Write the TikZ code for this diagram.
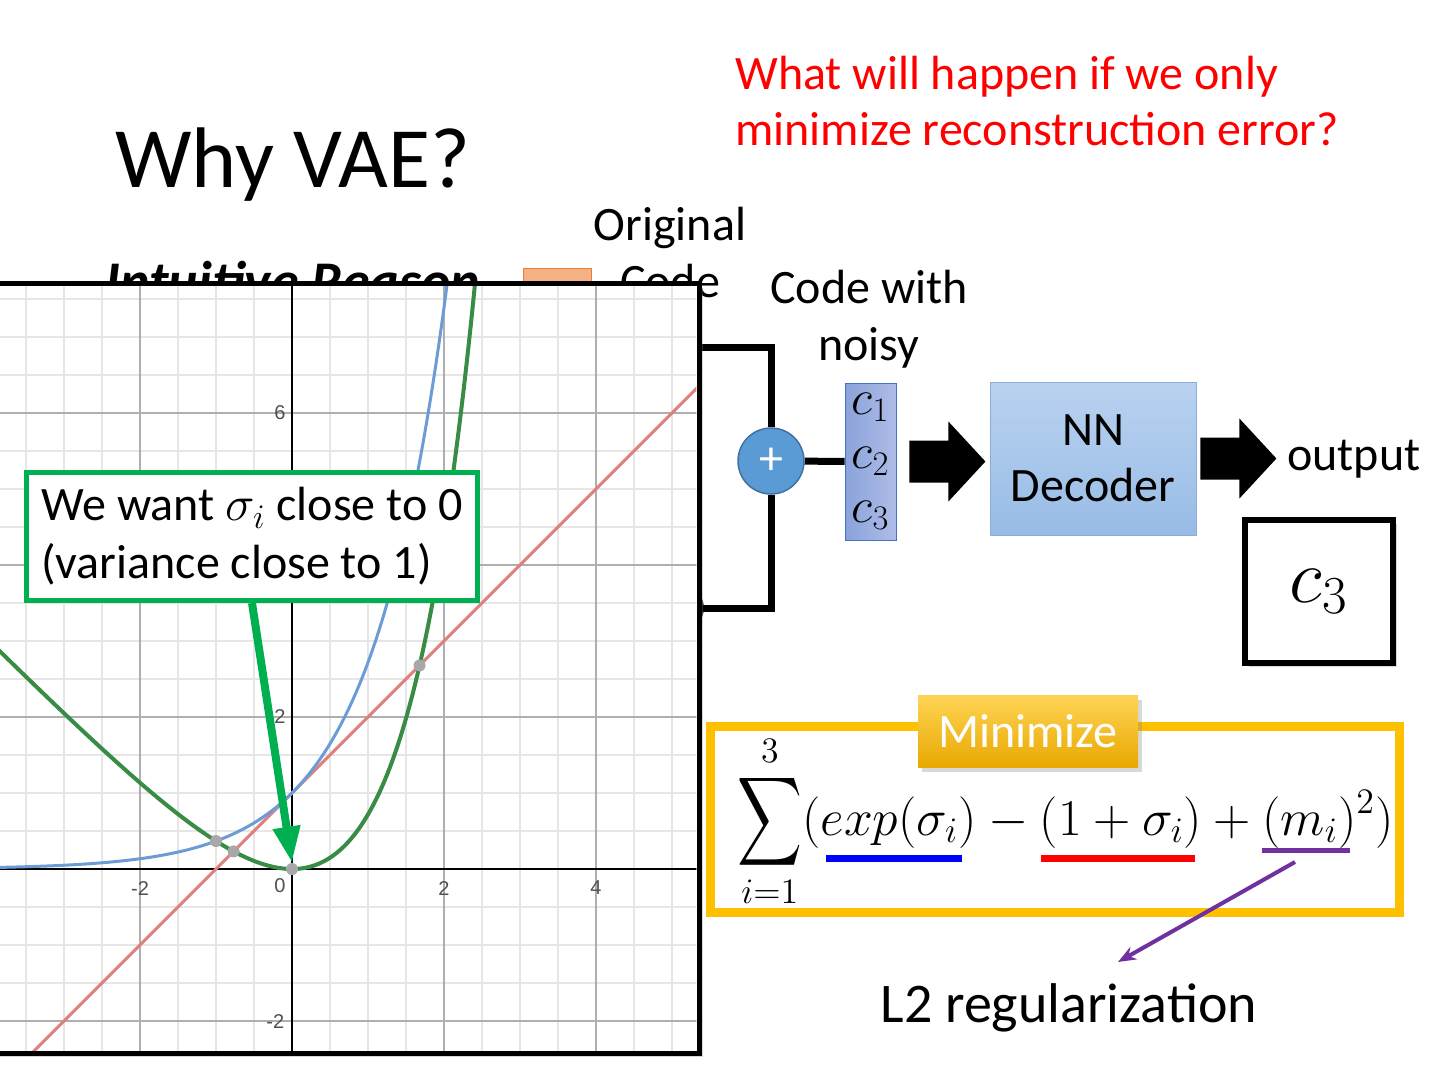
\documentclass[tikz,border=0pt]{standalone}
\usepackage{amsmath}
\usepackage{fontspec}
\setmainfont{Carlito}
\newfontfamily\tickfont{Liberation Sans}
\usetikzlibrary{arrows.meta,shadows,calc}
\definecolor{qred}{RGB}{255,0,0}
\definecolor{plusblue}{RGB}{91,155,213}
\definecolor{plusedge}{RGB}{65,113,156}
\definecolor{hiddenblue}{RGB}{31,56,100}
\definecolor{vecL}{RGB}{138,163,217}
\definecolor{vecR}{RGB}{175,188,232}
\definecolor{vecedge}{RGB}{68,114,196}
\definecolor{decT}{RGB}{185,210,240}
\definecolor{decB}{RGB}{152,188,230}
\definecolor{decedge}{RGB}{143,170,220}
\definecolor{gold}{RGB}{255,192,0}
\definecolor{goldT}{RGB}{255,212,85}
\definecolor{goldB}{RGB}{232,168,0}
\definecolor{callgreen}{RGB}{0,176,80}
\definecolor{ulblue}{RGB}{0,0,255}
\definecolor{ulred}{RGB}{255,0,0}
\definecolor{ulpurple}{RGB}{112,48,160}
\definecolor{gridminor}{RGB}{230,230,230}
\definecolor{gridmajor}{RGB}{175,175,175}
\definecolor{cblue}{RGB}{108,156,214}
\definecolor{cred}{RGB}{222,128,126}
\definecolor{cgreen}{RGB}{56,140,70}
\definecolor{dotgray}{RGB}{168,168,168}
\definecolor{legorange}{RGB}{244,177,131}
\definecolor{legedge}{RGB}{237,125,49}
\definecolor{tickgray}{RGB}{80,80,80}
\newcommand\myfs[2]{\fontsize{#1bp}{#2bp}\selectfont}
\begin{document}
\begin{tikzpicture}[x=0.5bp,y=-0.5bp,
  body/.style={inner sep=0pt, font=\myfs{24}{28.5}},
  thickline/.style={line width=3.5bp, black},
  tick/.style={inner sep=0pt, text=tickgray, font=\tickfont\myfs{10}{11}},
  gdot/.style={circle, fill=dotgray, inner sep=0pt, minimum size=6bp},
  blockarrow/.style={fill=black},
  shadowed/.style={drop shadow={opacity=0.3, shadow xshift=2bp, shadow yshift=-2bp}}]
\useasboundingbox (0,0) rectangle (1440,1080);
\fill[white] (0,0) rectangle (1440,1080);

% ---- texts at the top
\node[anchor=base west, inner sep=0pt, font=\myfs{43}{50}] (title) at (115,187) {Why VAE?};
\node[anchor=base west, align=left, body, text=qred, font=\myfs{24}{28}] (question) at (735,145) {What will happen if we only\\minimize reconstruction error?};

% ---- items hidden behind the graph panel
\node[anchor=base, align=center, body] (orig) at (670,297) {Original\\Code};
\node[anchor=base west, inner sep=0pt, font=\myfs{28}{34}\bfseries\itshape] (intuitive) at (105,300) {Intuitive Reason};
\node[draw=legedge, fill=legorange, minimum width=34bp, minimum height=20bp, anchor=north west, inner sep=0pt] (legend) at (523,268) {};
\node[circle, fill=hiddenblue, minimum size=22bp, inner sep=0pt] (hidden) at (682,608) {};

% ---- plus and brackets
\node[circle, fill=plusblue, draw=plusedge, line width=0.75bp, minimum size=33bp, inner sep=0pt, text=white, font=\myfs{24}{28}] (plus) at (771,461) {+};
\coordinate (btop) at (680,347);
\coordinate (bbot) at (680,608);
\draw[thickline] (btop) -| (plus.north);
\draw[thickline] (bbot) -| (plus.south);

% ---- graph panel
\node[fill=white, minimum width=359.5bp, minimum height=384.5bp, inner sep=0pt, shadowed] (panel) at (339.5,668.5) {};
\begin{scope}[shift={(292,869)}, x=38bp, y=38bp]
  \clip (-4.2,-2.388) rectangle (5.322,7.664);
  \draw[gridminor, line width=0.6bp] (-4.5,-3) grid[step={(0.5,0.5)}] (5.5,8);
  \draw[gridmajor, line width=0.6bp] (-4,-4) grid[step={(2,2)}] (6,8);
  \draw[black, line width=1bp] (-4.5,0) -- (5.5,0);
  \draw[black, line width=1bp] (0,-3) -- (0,8);
  \node[tick] (t6) at (-0.16,6) {6};
  \node[tick] (t2) at (-0.16,2) {2};
  \node[tick] (tm2y) at (-0.22,-2) {-2};
  \node[tick] (t0) at (-0.16,-0.22) {0};
  \node[tick] (tm2x) at (-2,-0.25) {-2};
  \node[tick] (t2x) at (2,-0.25) {2};
  \node[tick] (t4x) at (4,-0.25) {4};
  \draw[cred, line width=1.5bp] (-4.2,-3.2) -- (5.5,6.5);
  \draw[cblue, line width=1.5bp] plot[domain=-4.2:2.1, samples=160, smooth] (\x,{exp(\x)});
  \draw[cgreen, line width=2bp] plot[domain=-4.2:2.45, samples=200, smooth] (\x,{exp(\x)-1-\x});
  \node[gdot] (dot1) at (-1,0.3679) {};
  \node[gdot] (dot2) at (-0.768,0.232) {};
  \node[gdot] (dot3) at (1.678,2.678) {};
  \node[gdot] (dot0) at (0,0) {};
\end{scope}
\draw[black, line width=2.5bp] (panel.north west) rectangle (panel.south east);

% ---- callout
\node[draw=callgreen, line width=2.5bp, fill=white, minimum width=225.5bp, minimum height=64bp, align=left, font=\myfs{24}{29}] (callout) at (252,536.5) {We want $\sigma_i$ close to 0\\(variance close to 1)};
\draw[callgreen, line width=4bp, -{Triangle[length=18bp,width=13bp]}] (callout.south) -- (dot0.north);

% ---- code vector, decoder, output
\node[anchor=base, align=center, body] (noisy) at (869,360) {Code with\\noisy};
\node[draw=vecedge, left color=vecL, right color=vecR, minimum width=25.5bp, minimum height=78.5bp, inner sep=0pt, align=center, font=\myfs{24}{27}] (cvec) at (870.5,461.5) {$c_1$\\$c_2$\\$c_3$};
\draw[thickline] (plus) -- (cvec);
\node[draw=decedge, top color=decT, bottom color=decB, minimum width=103bp, minimum height=76.5bp, align=center, font=\myfs{24}{28}] (decoder) at (1093,458.5) {NN\\Decoder};
\coordinate (a1) at ($(cvec.east)+(13,0)$);
\coordinate (a2) at ($(decoder.east)+(4,0)$);
\fill[blockarrow] (a1) ++(0,-21) -- ++(39,0) -- ++(0,-19) -- ++(37,40) -- ++(-37,40) -- ++(0,-19) -- ++(-39,0) -- cycle;
\fill[blockarrow] (a2) ++(0,-21) -- ++(39,0) -- ++(0,-19) -- ++(37,40) -- ++(-37,40) -- ++(0,-19) -- ++(-39,0) -- cycle;
\node[anchor=base west, body] (output) at (1287,470) {output};
\node[draw=black, line width=3bp, fill=white, minimum width=74bp, minimum height=71.5bp, shadowed, font=\myfs{24}{28}] (c3box) at (1319,591.5) {\scalebox{1.55}{$c_3$}};

% ---- formula
\node[draw=gold, line width=4.5bp, fill=white, minimum width=344.5bp, minimum height=93bp, inner sep=0pt] (fbox) at (1055,819.5) {};
\node[top color=goldT, bottom color=goldB, minimum width=110bp, minimum height=36bp, text=white, font=\myfs{24}{28}, shadowed] (minimize) at (1028,731.5) {Minimize};
\node[anchor=base west, inner sep=0pt, font=\myfs{20}{24}] (formula) at (737,835) {\scalebox{1.25}{$\displaystyle\mathop{\vcenter{\hbox{\scalebox{0.87}[1.2]{$\displaystyle\sum$}}}}\limits_{i=1}^{3}(exp(\sigma_i)-(1+\sigma_i)+(m_i)^2)$}};
\coordinate (ub1) at (826,858); \coordinate (ub2) at (962,858);
\coordinate (ur1) at (1041,858); \coordinate (ur2) at (1195,858);
\coordinate (up1) at (1262,850); \coordinate (up2) at (1350,850);
\draw[ulblue, line width=3.5bp] (ub1) -- (ub2);
\draw[ulred, line width=3.5bp] (ur1) -- (ur2);
\draw[ulpurple, line width=2.5bp] (up1) -- (up2);
\node[anchor=base, inner sep=0pt, font=\myfs{28}{34}] (l2) at (1069,1022) {L2 regularization};
\coordinate (pstart) at (1295,862);
\coordinate (pend) at (1118,962);
\draw[ulpurple, line width=2bp, -{Stealth[length=9bp,width=7bp]}] (pstart) -- (pend);
\end{tikzpicture}
\end{document}
